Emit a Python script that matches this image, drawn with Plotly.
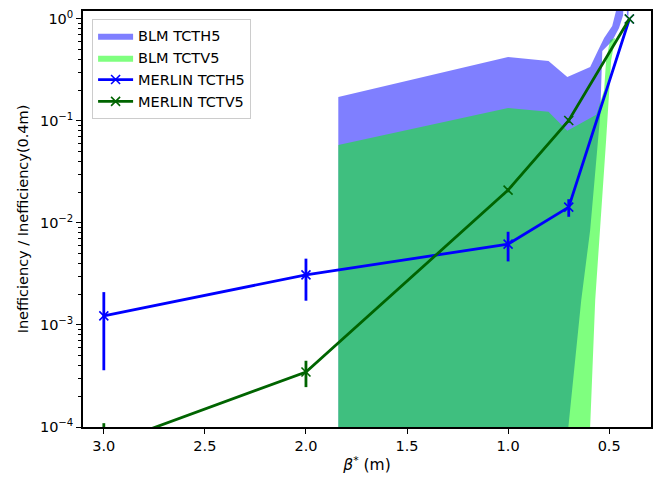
import plotly.graph_objects as go

# ---- data ----
beta_merlin = [3.0, 2.0, 1.0, 0.7, 0.4]
merlin_tcth5 = [1.23e-3, 3.1e-3, 6.2e-3, 0.0143, 1.0]
merlin_tcth5_err = [8.7e-4, 1.37e-3, 2.0e-3, 2.8e-3, 0.0]
merlin_tctv5 = [6.5e-5, 3.46e-4, 0.021, 0.101, 1.0]
merlin_tctv5_err = [4.4e-5, 1.0e-4, 1.0e-3, 5.0e-3, 0.0]

# BLM outlines (beta*, inefficiency) traced around each shaded region
blm_tcth5_x = [1.84, 1.0, 0.8, 0.707, 0.653, 0.594, 0.554, 0.525, 0.485, 0.466, 0.458,
               0.426, 0.431, 0.451, 0.485, 0.534, 0.544, 0.594, 0.638, 0.702, 0.753]
blm_tcth5_y = [0.172, 0.424, 0.387, 0.27, 0.30, 0.338, 0.497, 0.651, 0.854, 1.2, 2.0,
               2.0, 1.09, 0.816, 0.608, 0.486, 0.115, 8.5e-3, 1.76e-3, 1e-4, 1e-5]
blm_tcth5_spike_x = [0.416, 0.412, 0.405, 0.398]
blm_tcth5_spike_y = [2.0, 1.1, 1.05, 2.0]

blm_tctv5_x = [1.84, 1.0, 0.8, 0.707, 0.564, 0.525, 0.515, 0.495, 0.470,
               0.490, 0.515, 0.569, 0.594, 0.62]
blm_tctv5_y = [0.058, 0.134, 0.123, 0.08, 0.115, 0.2, 0.396, 0.623, 0.652,
               0.396, 0.065, 1.76e-3, 1e-4, 1e-5]

y_tick_vals = [1e-4, 1e-3, 1e-2, 1e-1, 1e0]
y_tick_text = ["10<sup>\u22124</sup>", "10<sup>\u22123</sup>", "10<sup>\u22122</sup>",
               "10<sup>\u22121</sup>", "10<sup>0</sup>"]
x_tick_vals = [3.0, 2.5, 2.0, 1.5, 1.0, 0.5]

FLOOR = 1e-5
FONT = "DejaVu Sans"

def outline(xs, ys):
    # close each outline down to a floor below the visible range
    return [xs[0]] + xs + [xs[0]], [FLOOR] + ys + [FLOOR]

fig = go.Figure()

bx, by = outline(blm_tcth5_x, blm_tcth5_y)
bx = bx + [None] + blm_tcth5_spike_x
by = by + [None] + blm_tcth5_spike_y
fig.add_trace(go.Scatter(x=bx, y=by, mode="lines", fill="toself",
                         fillcolor="rgba(0,0,255,0.5)", line=dict(width=0, color="rgba(0,0,255,0)"),
                         name="BLM TCTH5", hoverinfo="skip"))

gx, gy = outline(blm_tctv5_x, blm_tctv5_y)
fig.add_trace(go.Scatter(x=gx, y=gy, mode="lines", fill="toself",
                         fillcolor="rgba(0,255,0,0.5)", line=dict(width=0, color="rgba(0,255,0,0)"),
                         name="BLM TCTV5", hoverinfo="skip"))

fig.add_trace(go.Scatter(x=beta_merlin, y=merlin_tcth5, mode="lines+markers",
                         name="MERLIN TCTH5",
                         line=dict(color="#0000ff", width=2.8),
                         marker=dict(symbol="x-thin", size=9, color="#0000ff",
                                     line=dict(color="#0000ff", width=1.6)),
                         error_y=dict(type="data", array=merlin_tcth5_err, visible=True,
                                      color="#0000ff", thickness=2.8, width=0)))
fig.add_trace(go.Scatter(x=beta_merlin, y=merlin_tctv5, mode="lines+markers",
                         name="MERLIN TCTV5",
                         line=dict(color="#006400", width=2.8),
                         marker=dict(symbol="x-thin", size=9, color="#006400",
                                     line=dict(color="#006400", width=1.6)),
                         error_y=dict(type="data", array=merlin_tctv5_err, visible=True,
                                      color="#006400", thickness=2.8, width=0)))

fig.update_layout(
    width=656, height=478,
    margin=dict(l=83, r=3, t=11, b=51),
    paper_bgcolor="white", plot_bgcolor="white",
    font=dict(family=FONT, size=14.5, color="black"),
    showlegend=True,
    legend=dict(x=0.016, y=0.981, xanchor="left", yanchor="top",
                bgcolor="rgba(255,255,255,0.8)", bordercolor="#cccccc", borderwidth=1,
                font=dict(size=14.5, family=FONT), tracegroupgap=0, itemwidth=35),
)
fig.update_xaxes(
    range=[3.103, 0.293], tickvals=x_tick_vals, tickformat=".1f",
    ticks="outside", ticklen=5, tickwidth=1.2, tickcolor="black",
    showline=True, linecolor="black", linewidth=1.6, mirror=True,
    showgrid=False, zeroline=False,
    title=dict(text="<i>β</i><sup>*</sup> (m)", standoff=6, font=dict(size=15.5)),
)
fig.update_yaxes(
    type="log", range=[-4, 0.078],
    tickmode="array", tickvals=y_tick_vals, ticktext=y_tick_text,
    ticks="outside", ticklen=5, tickwidth=1.2, tickcolor="black",
    minor=dict(tickmode="array",
               tickvals=[k * 10 ** d for d in range(-4, 1) for k in range(2, 10)],
               ticks="outside", ticklen=3, tickwidth=1, tickcolor="black", showgrid=False),
    showline=True, linecolor="black", linewidth=1.6, mirror=True,
    showgrid=False, zeroline=False,
    title=dict(text="Inefficiency / Inefficiency(0.4m)", standoff=8, font=dict(size=14.5)),
)

fig.write_html("out.html")
